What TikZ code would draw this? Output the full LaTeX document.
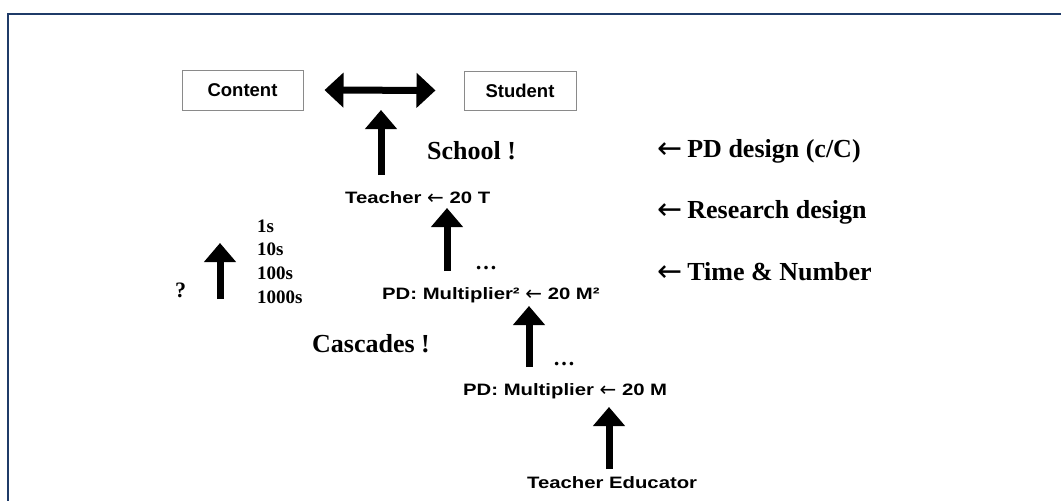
\documentclass[tikz,border=0pt]{standalone}
\usepackage{fontspec}
\usetikzlibrary{arrows.meta}
\setmainfont{Liberation Serif}
\newfontfamily\sanswide[FakeStretch=1.23]{Liberation Sans}
\newfontfamily\sansplain{Liberation Sans}
\newfontfamily\arrowglyphs{DejaVu Sans}
\newcommand{\leftarr}[2]{\raisebox{-#2}{\arrowglyphs\mdseries\fontsize{#1}{#1}\selectfont ←}}
\definecolor{framenavy}{HTML}{1F3B68}
\definecolor{boxgray}{HTML}{8A8A8A}
\tikzset{
  boxlabel/.style={draw=boxgray, line width=1pt, fill=white, inner sep=0pt,
    font=\sansplain\bfseries\fontsize{18.5}{20}\selectfont},
  sanslabel/.style={anchor=base west, inner sep=0pt,
    font=\sanswide\bfseries\fontsize{16.5}{18}\selectfont},
  seriflabel/.style={anchor=base west, inner sep=0pt,
    font=\bfseries\fontsize{26}{28}\selectfont},
  smalllabel/.style={anchor=base west, inner sep=0pt,
    font=\bfseries\fontsize{19}{21}\selectfont},
  dotslabel/.style={anchor=base west, inner sep=0pt,
    font=\bfseries\fontsize{22}{24}\selectfont},
  blockarrow/.style={line width=7pt, -{Triangle[width=31pt,length=19pt]}},
  doublearrow/.style={line width=7pt, {Triangle[width=34pt,length=19pt]}-{Triangle[width=34pt,length=19pt]}},
}
\begin{document}
\begin{tikzpicture}[x=1pt,y=-1pt]
\useasboundingbox (0,0) rectangle (1061,501);
\draw[framenavy, line width=2.5pt] (8,501) -- (8,14) -- (1061,14);

% boxes
\node[boxlabel, minimum width=121pt, minimum height=40pt] (content) at (242.5,90) {Content};
\node[boxlabel, minimum width=112pt, minimum height=39pt] (student) at (520,90.5) {Student};
\draw[doublearrow, shorten <=21pt, shorten >=28pt] (content.east) -- (student.west);

% main chain labels
\node[seriflabel] (school) at (427,159) {School !};
\node[sanslabel] (teacher) at (345,203) {Teacher \leftarr{20}{1.5pt} 20 T};
\node[sanslabel] (mult2) at (382,299) {PD: Multiplier² \leftarr{20}{1.5pt} 20 M²};
\node[sanslabel] (mult1) at (463,395) {PD: Multiplier \leftarr{20}{1.5pt} 20 M};
\node[sanslabel] (educ) at (527,488) {Teacher Educator};
\node[seriflabel] (cascades) at (312,352) {Cascades !};
\node[dotslabel] (dots1) at (475,269) {…};
\node[dotslabel] (dots2) at (553,365) {…};

% arrows of the chain
\coordinate (a1s) at (381,175); \coordinate (a1e) at (381,110);
\coordinate (a2s) at (447,271); \coordinate (a2e) at (447,208);
\coordinate (a3s) at (529,367); \coordinate (a3e) at (529,306);
\coordinate (a4s) at (609,469); \coordinate (a4e) at (609,407);
\draw[blockarrow] (a1s) -- (a1e);
\draw[blockarrow] (a2s) -- (a2e);
\draw[blockarrow] (a3s) -- (a3e);
\draw[blockarrow] (a4s) -- (a4e);

% left scale
\node[dotslabel] (question) at (175,297) {?};
\coordinate (a5s) at (220,299); \coordinate (a5e) at (220,243);
\draw[blockarrow] (a5s) -- (a5e);
\node[smalllabel] (s1) at (257,232) {1s};
\node[smalllabel] (s10) at (257,255) {10s};
\node[smalllabel] (s100) at (257,279) {100s};
\node[smalllabel] (s1000) at (257,303) {1000s};

% right labels
\node[seriflabel] (pdd) at (657,157) {\leftarr{30}{1pt}\hspace{5pt}PD design (c/C)};
\node[seriflabel] (rd) at (657,218) {\leftarr{30}{1pt}\hspace{5pt}Research design};
\node[seriflabel] (tn) at (657,280) {\leftarr{30}{1pt}\hspace{5pt}Time \& Number};
\end{tikzpicture}
\end{document}
